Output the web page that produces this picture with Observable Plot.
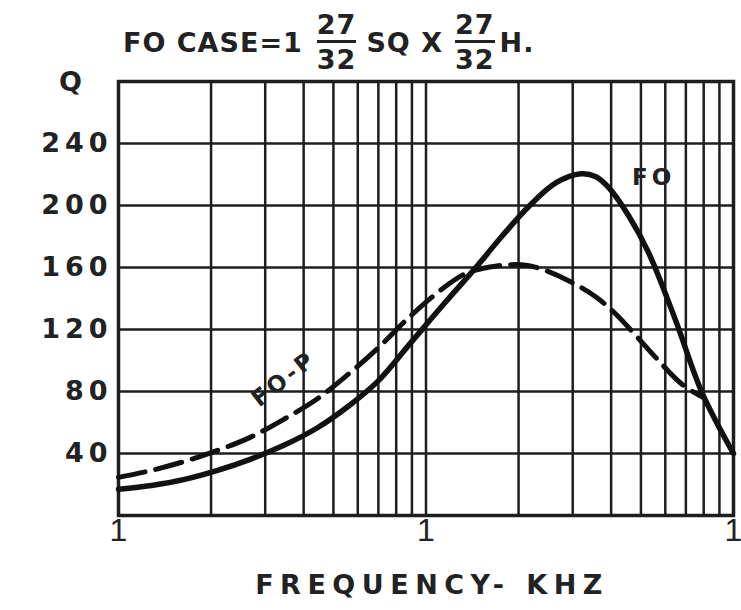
<!DOCTYPE html>
<html>
<head>
<meta charset="utf-8">
<script src="https://cdn.jsdelivr.net/npm/d3@7"></script>
<script src="https://cdn.jsdelivr.net/npm/@observablehq/plot@0.6"></script>
<style>
  body { margin: 0; background: #fff; }
  #wrap { position: relative; width: 741px; height: 610px; overflow: hidden; background: #fff; }
  #chart { position: absolute; left: 0; top: 0; }
  .title { position: absolute; left: 123px; top: 10px; display: flex; align-items: center;
           font-family: "DejaVu Sans"; font-weight: bold; font-size: 27px; color: #222;
           white-space: pre; line-height: 30px; letter-spacing: 1px; }
  .frac { display: flex; flex-direction: column; align-items: center; }
  .frac .num { line-height: 30px; }
  .frac .den { line-height: 30px; border-top: 3px solid #222; padding-top: 2px; }
</style>
</head>
<body>
<div id="wrap">
  <div id="chart"></div>
  <div class="title" id="title"></div>
</div>
<script>
// ---- data ----
const titleParts = ["FO CASE=1", ["27", "32"], "SQ X", ["27", "32"], "H."];
const xLabel = "FREQUENCY- KHZ";
const yLabel = "Q";
const xTicks = [1, 10, 100];
const xTickLabels = ["1", "1", "1"];
const yTicks = [40, 80, 120, 160, 200, 240];
const yTickLabels = ["40", "80", "120", "160", "200", "240"];
const xGrid = [2, 3, 4, 5, 6, 7, 8, 9, 10, 20, 30, 40, 50, 60, 70, 80, 90];
const yGrid = [40, 80, 120, 160, 200, 240];

// FO (solid)
const foFreq = [1, 1.28, 1.64, 2.1, 2.68, 3.45, 4.41, 5.59, 6.98, 8.9, 11.5, 14.4, 17.6, 21.7, 26.5, 31.9, 35.7, 39.3, 45.6, 52.8, 64.6, 78.9, 100];
const foQ    = [17, 19.4, 23.3, 29.1, 36.2, 45.3, 56.3, 70.5, 86.7, 111.2, 137.1, 159.1, 179.8, 199.8, 214.7, 220.5, 218.6, 211.5, 193.4, 170.1, 126.7, 79.5, 40];
// FO-P (dashed)
const fopFreq = [1, 1.28, 1.64, 2.1, 2.68, 3.45, 4.41, 5.59, 6.98, 8.9, 11.5, 13.6, 17.0, 20.8, 23.7, 29.2, 35.7, 41.4, 48.0, 55.7, 68.0, 79.5];
const fopQ    = [24.6, 29.1, 34.9, 42.0, 50.4, 62.1, 75.0, 91.2, 108.0, 128.7, 147.4, 156.5, 161.0, 161.7, 159.1, 151.3, 141.0, 130.0, 116.4, 102.2, 84.7, 76.3];

const labelText = ["FO", "FO-P"];
const labelFreq = [55, 3.45];
const labelQ = [218, 88];
const labelRotate = [0, -38];

// ---- title ----
const titleEl = document.getElementById("title");
const gaps = [0, 14, 10, 12, 5];
titleParts.forEach((p, i) => {
  let el;
  if (Array.isArray(p)) {
    el = document.createElement("span");
    el.className = "frac";
    const n = document.createElement("span"); n.className = "num"; n.textContent = p[0];
    const d = document.createElement("span"); d.className = "den"; d.textContent = p[1];
    el.appendChild(n); el.appendChild(d);
  } else {
    el = document.createElement("span");
    el.textContent = p;
  }
  el.style.marginLeft = gaps[i] + "px";
  titleEl.appendChild(el);
});

// ---- chart ----
const fo = foFreq.map((f, i) => ({f, q: foQ[i]}));
const fop = fopFreq.map((f, i) => ({f, q: fopQ[i]}));
const labels = labelText.map((t, i) => ({t, f: labelFreq[i], q: labelQ[i], r: labelRotate[i]}));
const xTickMap = new Map(xTicks.map((d, i) => [d, xTickLabels[i]]));
const yTickMap = new Map(yTicks.map((d, i) => [d, yTickLabels[i]]));
const ink = "#1e1e1e";
const font = "DejaVu Sans";

const chart = Plot.plot({
  width: 741,
  height: 610,
  marginLeft: 118,
  marginRight: 8,
  marginTop: 81,
  marginBottom: 95,
  style: {background: "transparent", color: ink, fontFamily: font},
  x: {type: "log", domain: [1, 100], label: null},
  y: {domain: [0, 280], label: null},
  marks: [
    Plot.ruleX(xGrid, {stroke: ink, strokeWidth: 2.5}),
    Plot.ruleY(yGrid, {stroke: ink, strokeWidth: 2.5}),
    Plot.frame({stroke: ink, strokeWidth: 3.5}),
    Plot.line(fop, {x: "f", y: "q", curve: "catmull-rom", stroke: "#111", strokeWidth: 5, strokeDasharray: "27,11"}),
    Plot.line(fo, {x: "f", y: "q", curve: "catmull-rom", stroke: "#111", strokeWidth: 5.5}),
    Plot.axisY(yTicks, {tickSize: 0, tickPadding: 6, fontSize: 27, fontWeight: "bold", fontFamily: font, fill: "#222",
      tickFormat: d => yTickMap.get(d)}),
    Plot.axisX(xTicks, {tickSize: 0, tickPadding: 3, fontSize: 32, fontFamily: "Liberation Sans", fill: "#222",
      tickFormat: d => xTickMap.get(d)}),
    Plot.text([yLabel], {frameAnchor: "top-left", dx: -48, dy: 1, text: d => d, fontSize: 27, fontWeight: "bold",
      fontFamily: font, fill: "#222", textAnchor: "middle", lineAnchor: "middle"}),
    Plot.text([xLabel], {frameAnchor: "bottom", dy: 70, dx: 6, text: d => d, fontSize: 27, fontWeight: "bold",
      fontFamily: font, fill: "#222", lineAnchor: "middle"}),
    Plot.text(labels, {x: "f", y: "q", text: "t", rotate: "r", fontSize: 23, fontWeight: "bold", fontFamily: font, fill: "#222",
      lineAnchor: "middle"})
  ]
});
// letter spacing for lettering-style texts
const spacing = new Map([[xLabel, "6.5px"], ["FO", "4px"], ["FO-P", "3px"]]);
chart.querySelectorAll("text").forEach(t => {
  if (spacing.has(t.textContent)) t.style.letterSpacing = spacing.get(t.textContent);
});
chart.querySelectorAll('g[aria-label="y-axis tick label"] text').forEach(t => { t.style.letterSpacing = "5px"; });
document.getElementById("chart").appendChild(chart);
</script>
</body>
</html>
